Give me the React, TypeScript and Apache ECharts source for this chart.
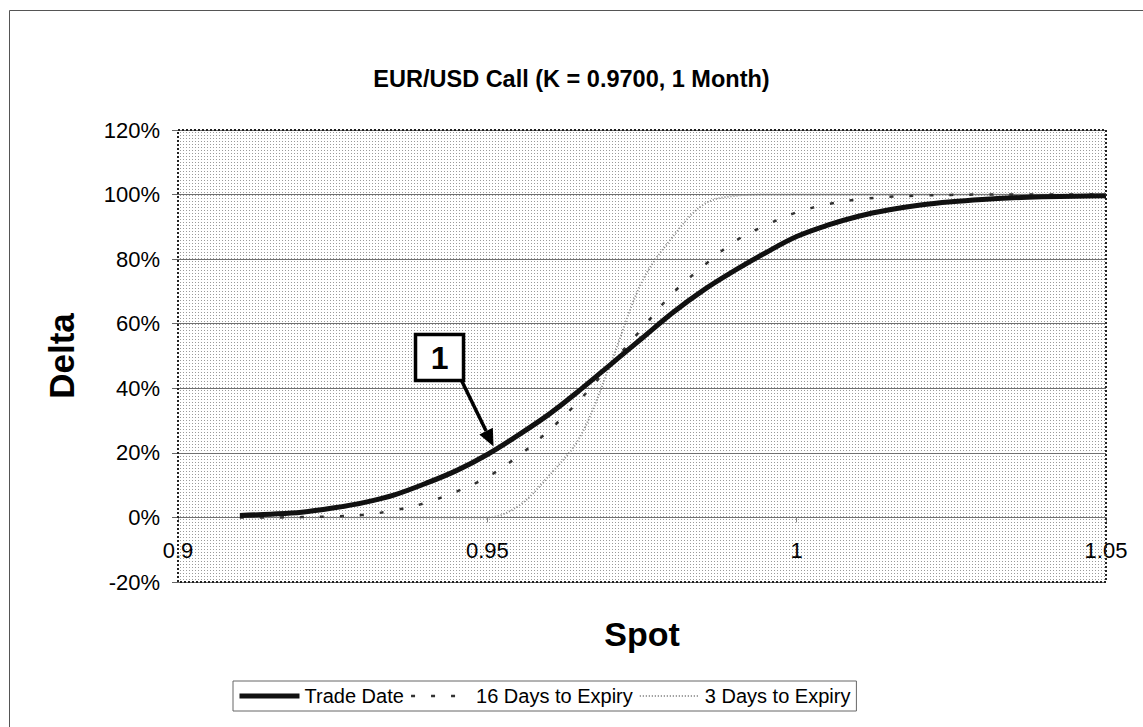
import React, { useEffect, useRef } from "react";
import * as echarts from "echarts";

// ---- data ----
const spot = [
  0.91, 0.915, 0.92, 0.925, 0.93, 0.935, 0.94, 0.945, 0.95, 0.955, 0.96, 0.965,
  0.97, 0.975, 0.98, 0.985, 0.99, 0.995, 1.0, 1.005, 1.01, 1.015, 1.02, 1.025,
  1.03, 1.035, 1.04, 1.045, 1.05,
];
const tradeDate = [
  0.6, 1.0, 1.6, 2.9, 4.6, 7.0, 10.5, 14.5, 19.5, 25.5, 32.0, 39.5, 47.5, 55.5,
  63.5, 70.5, 76.5, 82.0, 87.0, 90.5, 93.3, 95.3, 96.8, 97.8, 98.5, 99.0, 99.3,
  99.5, 99.6,
];
const days16 = [
  0, 0, 0.1, 0.3, 0.8, 2.2, 4.5, 8.0, 12.5, 19.0, 27.0, 36.5, 47.5, 58.5, 69.5,
  78.0, 85.5, 90.5, 94.5, 97.0, 98.5, 99.3, 99.7, 99.9, 100, 100, 100, 100, 100,
];
const days3 = [
  0, 0, 0, 0, 0, 0, 0, 0, 0, 3.5, 13, 25, 48, 73, 87, 97, 99.6, 100, 100, 100,
  100, 100, 100, 100, 100, 100, 100, 100, 100,
];
const seriesNames = ["Trade Date", "16 Days to Expiry", "3 Days to Expiry"];
const titleText = "EUR/USD Call (K = 0.9700, 1 Month)";
const xName = "Spot";
const yName = "Delta";
const yMin = -20;
const yMax = 120;
const annotationLabel = "1";
const annotationPoint = [0.951, 22];

const FONT = "Arial, 'Liberation Sans', Helvetica, sans-serif";
const GRID = { left: 178, right: 37, top: 130, bottom: 145 };
const H = 727;

const LINE_STYLES = [
  { color: "#111", width: 5, type: "solid" as any },
  { color: "#333", width: 2.5, type: [4, 16] as any },
  { color: "#8a8a8a", width: 2, type: [1, 2] as any },
];

export default function App() {
  const ref = useRef<HTMLDivElement>(null);

  useEffect(() => {
    if (!ref.current) return;
    const chart = echarts.init(ref.current, null, { renderer: "svg" });

    const pair = (ys: number[]) => spot.map((x, i) => [x, ys[i]]);
    const gridH = H - GRID.top - GRID.bottom;
    // move the x axis up from the grid bottom onto the 0% line
    const zeroOffset = -(gridH * (0 - yMin)) / (yMax - yMin);

    chart.setOption({
      animation: false,
      backgroundColor: "#ffffff",
      title: {
        text: titleText,
        left: "center",
        top: 62,
        textStyle: { fontFamily: FONT, fontSize: 23.5, fontWeight: "bold", color: "#000" },
      },
      grid: GRID,
      legend: {
        data: seriesNames.map((name, i) => ({
          name,
          lineStyle: { ...LINE_STYLES[i] },
          itemStyle: { opacity: 0 },
        })),
        left: 233,
        top: 681,
        itemWidth: 60,
        itemHeight: 10,
        itemGap: 6,
        padding: [5, 6, 5, 4],
        borderColor: "#666",
        borderWidth: 1,
        backgroundColor: "#fff",
        itemStyle: { opacity: 0 },
        textStyle: { fontFamily: FONT, fontSize: 20, color: "#000" },
      },
      xAxis: {
        type: "value",
        min: 0.9,
        max: 1.05,
        interval: 0.05,
        position: "bottom",
        offset: zeroOffset,
        name: xName,
        nameLocation: "middle",
        nameGap: 100,
        nameTextStyle: { fontFamily: FONT, fontSize: 34, fontWeight: "bold", color: "#000" },
        axisLine: { show: true, onZero: false, lineStyle: { color: "#707070", width: 1 } },
        axisTick: { show: true, length: 5, lineStyle: { color: "#888" } },
        axisLabel: {
          fontFamily: FONT,
          fontSize: 22,
          color: "#000",
          margin: 22,
          showMinLabel: true,
          showMaxLabel: true,
          formatter: (v: number) => String(Math.round(v * 100) / 100),
        },
        splitLine: { show: false },
      },
      yAxis: {
        type: "value",
        min: yMin,
        max: yMax,
        interval: 20,
        name: yName,
        nameLocation: "middle",
        nameRotate: 90,
        nameGap: 99,
        nameTextStyle: { fontFamily: FONT, fontSize: 35, fontWeight: "bold", color: "#000" },
        axisLine: { show: false, onZero: false },
        axisTick: { show: true, length: 6, lineStyle: { color: "#666" } },
        axisLabel: {
          fontFamily: FONT,
          fontSize: 22,
          color: "#000",
          margin: 18,
          formatter: "{value}%",
        },
        splitLine: { show: true, lineStyle: { color: "#707070", width: 1 } },
      },
      series: [
        {
          name: seriesNames[2],
          type: "line",
          data: pair(days3),
          symbol: "none",
          smooth: 0.35,
          z: 3,
          lineStyle: { ...LINE_STYLES[2] },
          itemStyle: { color: LINE_STYLES[2].color },
        },
        {
          name: seriesNames[1],
          type: "line",
          data: pair(days16),
          symbol: "none",
          smooth: 0.35,
          z: 4,
          lineStyle: { ...LINE_STYLES[1] },
          itemStyle: { color: LINE_STYLES[1].color },
        },
        {
          name: seriesNames[0],
          type: "line",
          data: pair(tradeDate),
          symbol: "none",
          smooth: 0.35,
          z: 5,
          lineStyle: { ...LINE_STYLES[0] },
          itemStyle: { color: LINE_STYLES[0].color },
        },
      ],
    });

    // layout helpers from the chart's own scales
    const tl = chart.convertToPixel({ gridIndex: 0 }, [0.9, yMax]) as number[];
    const br = chart.convertToPixel({ gridIndex: 0 }, [1.05, yMin]) as number[];
    const tip = chart.convertToPixel({ gridIndex: 0 }, annotationPoint) as number[];

    const tile = document.createElement("canvas");
    tile.width = 3;
    tile.height = 3;
    const ctx = tile.getContext("2d");
    if (ctx) {
      ctx.fillStyle = "#ffffff";
      ctx.fillRect(0, 0, 3, 3);
      ctx.fillStyle = "#9a9a9a";
      ctx.fillRect(0, 0, 1, 1);
    }

    // annotation box and arrow
    const boxW = 48;
    const boxH = 46;
    const boxX = tip[0] - 78;
    const boxY = tip[1] - 112;
    const start = [boxX + boxW - 2, boxY + boxH];
    const dx = tip[0] - start[0];
    const dy = tip[1] - start[1];
    const len = Math.sqrt(dx * dx + dy * dy);
    const ux = dx / len;
    const uy = dy / len;
    const headL = 17;
    const headW = 7.5;
    const bx = tip[0] - headL * ux;
    const by = tip[1] - headL * uy;
    const nx = -uy;
    const ny = ux;

    chart.setOption({
      graphic: [
        {
          type: "rect",
          silent: true,
          z: -5,
          shape: { x: 9.5, y: 10.5, width: 1300, height: 900 },
          style: { fill: "none", stroke: "#555", lineWidth: 1 },
        },
        {
          type: "rect",
          silent: true,
          z: -1,
          shape: { x: tl[0], y: tl[1], width: br[0] - tl[0], height: br[1] - tl[1] },
          style: { fill: { image: tile, repeat: "repeat" } as any },
        },
        {
          type: "rect",
          silent: true,
          z: 10,
          shape: { x: tl[0], y: tl[1], width: br[0] - tl[0], height: br[1] - tl[1] },
          style: { fill: "none", stroke: "#222", lineWidth: 2, lineDash: [2, 2] },
        },
        {
          type: "line",
          silent: true,
          z: 20,
          shape: { x1: start[0], y1: start[1], x2: bx, y2: by },
          style: { stroke: "#000", lineWidth: 3.5 },
        },
        {
          type: "polygon",
          silent: true,
          z: 20,
          shape: {
            points: [
              [tip[0], tip[1]],
              [bx + headW * nx, by + headW * ny],
              [bx - headW * nx, by - headW * ny],
            ],
          },
          style: { fill: "#000" },
        },
        {
          type: "rect",
          silent: true,
          z: 20,
          shape: { x: boxX, y: boxY, width: boxW, height: boxH },
          style: { fill: "#fff", stroke: "#000", lineWidth: 3.5 },
        },
        {
          type: "text",
          silent: true,
          z: 21,
          x: boxX + boxW / 2,
          y: boxY + boxH / 2 + 1,
          style: {
            text: annotationLabel,
            fill: "#000",
            font: `bold 32px ${FONT}`,
            align: "center",
            verticalAlign: "middle",
          },
        },
      ],
    });

    return () => {
      chart.dispose();
    };
  }, []);

  return (
    <div
      ref={ref}
      style={{ position: "fixed", left: 0, top: 0, width: 1143, height: 727 }}
    />
  );
}
